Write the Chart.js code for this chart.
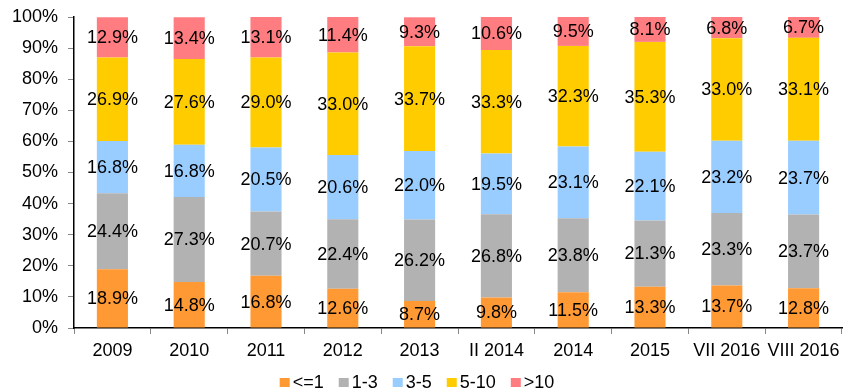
<!DOCTYPE html>
<html>
<head>
<meta charset="utf-8">
<script src="https://cdn.jsdelivr.net/npm/chart.js@4/dist/chart.umd.min.js"></script>
<style>
  html, body { margin: 0; padding: 0; background: #fff; }
  #wrap { width: 856px; height: 392px; }
</style>
</head>
<body>
<div id="wrap"><canvas id="c" width="856" height="392"></canvas></div>
<script>
// Categories (periods)
const categories = ['2009', '2010', '2011', '2012', '2013', 'II 2014', '2014', '2015', 'VII 2016', 'VIII 2016'];

// Share of each group, percent
const seriesLe1  = [18.9, 14.8, 16.8, 12.6, 8.7, 9.8, 11.5, 13.3, 13.7, 12.8];
const series1to3 = [24.4, 27.3, 20.7, 22.4, 26.2, 26.8, 23.8, 21.3, 23.3, 23.7];
const series3to5 = [16.8, 16.8, 20.5, 20.6, 22.0, 19.5, 23.1, 22.1, 23.2, 23.7];
const series5to10 = [26.9, 27.6, 29.0, 33.0, 33.7, 33.3, 32.3, 35.3, 33.0, 33.1];
const seriesGt10 = [12.9, 13.4, 13.1, 11.4, 9.3, 10.6, 9.5, 8.1, 6.8, 6.7];

const seriesNames = ['<=1', '1-3', '3-5', '5-10', '>10'];

// Y tick values
const yTicks = [0, 10, 20, 30, 40, 50, 60, 70, 80, 90, 100];

const FONT = '"Liberation Sans", Arial, sans-serif';

// Writes each segment's value in the middle of its bar piece
const segmentLabels = {
  id: 'segmentLabels',
  afterDatasetsDraw(chart) {
    const ctx = chart.ctx;
    ctx.save();
    ctx.font = '18px ' + FONT;
    ctx.fillStyle = '#000';
    ctx.textAlign = 'center';
    ctx.textBaseline = 'middle';
    chart.data.datasets.forEach((ds, di) => {
      const meta = chart.getDatasetMeta(di);
      meta.data.forEach((bar, i) => {
        const v = ds.data[i];
        const y = (bar.y + bar.base) / 2;
        ctx.fillText(v.toFixed(1) + '%', bar.x, y + 1);
      });
    });
    ctx.restore();
  }
};

// Compact legend row under the axis: small square swatch, tight gap to its text
const bottomLegend = {
  id: 'bottomLegend',
  afterDraw(chart) {
    const ctx = chart.ctx;
    const box = 10, gapText = 3, gapItem = 15;
    ctx.save();
    ctx.font = '18px ' + FONT;
    ctx.textBaseline = 'middle';
    ctx.textAlign = 'left';
    const items = chart.data.datasets.map(ds => ({
      text: ds.label, color: ds.backgroundColor, w: ctx.measureText(ds.label).width
    }));
    let total = 0;
    items.forEach((it, k) => { total += box + gapText + it.w + (k < items.length - 1 ? gapItem : 0); });
    const cy = chart.height - 10;
    let x = chart.width / 2 - 11 - total / 2;
    items.forEach(it => {
      ctx.fillStyle = it.color;
      ctx.fillRect(x, cy - 4, box, box - 1);
      ctx.fillStyle = '#000';
      ctx.fillText(it.text, x + box + gapText, cy + 1);
      x += box + gapText + it.w + gapItem;
    });
    ctx.restore();
  }
};

const colors = ['#FF9933', '#B2B2B2', '#99CCFF', '#FFCC00', '#FF7C80'];
const values = [seriesLe1, series1to3, series3to5, series5to10, seriesGt10];

new Chart(document.getElementById('c'), {
  type: 'bar',
  data: {
    labels: categories,
    datasets: values.map((d, k) => ({
      label: seriesNames[k],
      data: d,
      backgroundColor: colors[k],
      borderWidth: 0,
      categoryPercentage: 1.0,
      barPercentage: 0.405
    }))
  },
  options: {
    responsive: false,
    animation: false,
    devicePixelRatio: 1,
    layout: { padding: { left: 0, right: 14, top: 17, bottom: 24 } },
    plugins: {
      tooltip: { enabled: false },
      legend: { display: false }
    },
    scales: {
      x: {
        stacked: true,
        afterFit(scale) { scale.height = 40; },
        border: { display: true, color: '#000', width: 1.5 },
        grid: {
          display: true,
          drawOnChartArea: false,
          drawTicks: true,
          tickLength: 6,
          offset: true,
          color: '#888'
        },
        ticks: {
          color: '#000',
          padding: 6,
          maxRotation: 0,
          autoSkip: false,
          font: { family: FONT, size: 18 }
        }
      },
      y: {
        stacked: true,
        min: 0,
        max: 100,
        afterFit(scale) {
          scale.width = 74;
          scale.paddingTop = 0;
          scale.paddingBottom = 0;
        },
        afterBuildTicks(scale) { scale.ticks = yTicks.map(v => ({ value: v })); },
        border: { display: true, color: '#000', width: 1.5 },
        grid: {
          display: true,
          drawOnChartArea: false,
          drawTicks: true,
          tickLength: 6,
          color: '#888'
        },
        ticks: {
          color: '#000',
          padding: 10,
          font: { family: FONT, size: 18 },
          callback: v => v + '%'
        }
      }
    }
  },
  plugins: [segmentLabels, bottomLegend]
});
</script>
</body>
</html>
